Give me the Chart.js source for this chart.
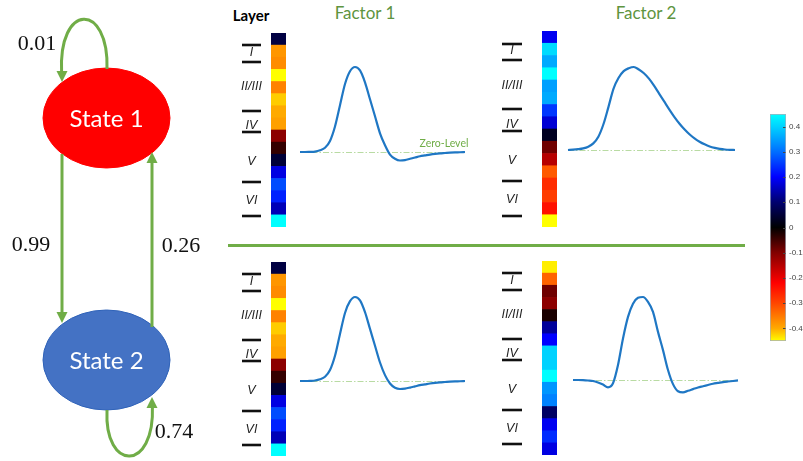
<!DOCTYPE html>
<html>
<head>
<meta charset="utf-8">
<script src="https://cdn.jsdelivr.net/npm/chart.js@4/dist/chart.umd.min.js"></script>
<style>
  html, body { margin: 0; padding: 0; background: #fff; }
  body { width: 803px; height: 461px; overflow: hidden; position: relative; }
  .box { position: absolute; }
  .box canvas { display: block; }
  .lbl { position: absolute; white-space: nowrap; line-height: 1; transform: translate(-50%, -50%); font-family: Lato, sans-serif; }
  .sep { position: absolute; left: 228px; top: 244px; width: 517px; height: 3px; background: #70ad47; }
</style>
</head>
<body>
<div class="sep"></div>
<script>
// ---------- data ----------
const stateNames = ['State 1', 'State 2'];
// transition probabilities: 1→1, 1→2, 2→1, 2→2
const transitionProbs = [0.01, 0.99, 0.26, 0.74];

const layerNames = ['I', 'II/III', 'IV', 'V', 'VI'];
const layerBounds = [0.15, 1.68, 6.2, 8.2, 12.8, 15.95];     // depth (in bins) of layer borders
const layerLabelDepth = [0.8, 4.0, 7.6, 10.9, 14.5];

// spatial loadings, 16 depth bins, top to bottom
const spatialF1S1 = [0.06, -0.38, -0.37, -0.45, -0.36, -0.42, -0.40, -0.39, -0.11, -0.04, 0.05, 0.18, 0.27, 0.23, 0.15, 0.45];
const spatialF2S1 = [0.19, 0.41, 0.36, 0.45, 0.35, 0.36, 0.25, 0.17, 0.03, -0.085, -0.15, -0.32, -0.27, -0.29, -0.24, -0.45];
const spatialF1S2 = [0.06, -0.38, -0.37, -0.45, -0.36, -0.42, -0.40, -0.39, -0.11, -0.04, 0.05, 0.18, 0.27, 0.23, 0.15, 0.45];
const spatialF2S2 = [-0.44, -0.33, -0.085, -0.11, -0.02, 0.13, 0.2, 0.40, 0.40, 0.45, 0.34, 0.32, 0.09, 0.19, 0.24, 0.18];

// temporal waveforms (normalised to peak)
const waveF1S1 = [0, 0, 0.002, 0.005, 0.02, 0.05, 0.13, 0.3, 0.55, 0.8, 0.95, 1.0, 0.96, 0.82, 0.62, 0.42, 0.22, 0.08, -0.03, -0.08, -0.1, -0.095, -0.08, -0.065, -0.05, -0.04, -0.03, -0.022, -0.016, -0.012, -0.008, -0.005, -0.003, 0];
const waveF2S1 = [0, 0.004, 0.01, 0.02, 0.04, 0.08, 0.16, 0.31, 0.52, 0.74, 0.87, 0.95, 0.985, 1.0, 0.97, 0.925, 0.86, 0.775, 0.68, 0.585, 0.49, 0.40, 0.32, 0.25, 0.19, 0.14, 0.10, 0.068, 0.043, 0.026, 0.014, 0.006, 0.002, 0];
const waveF1S2 = [0, 0, 0.002, 0.006, 0.02, 0.05, 0.13, 0.3, 0.56, 0.81, 0.95, 1.0, 0.96, 0.82, 0.62, 0.42, 0.22, 0.07, -0.03, -0.08, -0.095, -0.09, -0.078, -0.064, -0.05, -0.04, -0.03, -0.022, -0.016, -0.012, -0.008, -0.005, -0.003, 0];
const waveF2S2 = [0, 0, -0.002, -0.006, -0.012, -0.03, -0.055, -0.088, -0.04, 0.18, 0.5, 0.76, 0.92, 0.99, 1.0, 0.94, 0.82, 0.58, 0.36, 0.12, -0.05, -0.135, -0.148, -0.13, -0.11, -0.09, -0.075, -0.06, -0.045, -0.035, -0.025, -0.018, -0.012, -0.005];

const colorRange = [-0.45, 0.45];
const colorbarTicks = [0.4, 0.3, 0.2, 0.1, 0, -0.1, -0.2, -0.3, -0.4];

// ---------- style ----------
const cmapStops = [
  [-0.45, [255, 255, 0]], [-0.40, [255, 170, 0]], [-0.30, [255, 70, 0]], [-0.22, [255, 0, 0]],
  [-0.10, [130, 0, 0]], [0, [0, 0, 0]], [0.10, [0, 0, 110]], [0.20, [0, 0, 255]],
  [0.30, [0, 110, 255]], [0.40, [0, 210, 255]], [0.45, [0, 255, 255]]
];
const GREEN = '#70ad47';
const WAVE_BLUE = '#1f77c4';

Chart.defaults.font.family = 'Lato, sans-serif';

function colorFor(v) {
  if (v <= cmapStops[0][0]) return `rgb(${cmapStops[0][1]})`;
  for (let i = 1; i < cmapStops.length; i++) {
    const [v1, c1] = cmapStops[i];
    if (v <= v1) {
      const [v0, c0] = cmapStops[i - 1];
      const t = (v - v0) / (v1 - v0);
      const c = c0.map((a, k) => Math.round(a + (c1[k] - a) * t));
      return `rgb(${c})`;
    }
  }
  return `rgb(${cmapStops[cmapStops.length - 1][1]})`;
}

function makeCanvas(left, top, w, h) {
  const box = document.createElement('div');
  box.className = 'box';
  box.style.left = left + 'px';
  box.style.top = top + 'px';
  const cv = document.createElement('canvas');
  cv.width = w; cv.height = h;
  cv.style.width = w + 'px'; cv.style.height = h + 'px';
  box.appendChild(cv);
  document.body.appendChild(box);
  return cv;
}

function label(text, cx, cy, css) {
  const d = document.createElement('div');
  d.className = 'lbl';
  d.textContent = text;
  d.style.left = cx + 'px';
  d.style.top = cy + 'px';
  Object.assign(d.style, css || {});
  document.body.appendChild(d);
}

const baseOpts = {
  responsive: false, animation: false, devicePixelRatio: 1,
  events: [],
};

// ---------- state diagram ----------
const diagramPlugin = {
  id: 'stateDiagram',
  afterDraw(chart) {
    const ctx = chart.ctx;
    const head = (x, y, ang) => {
      const L = 11, W = 5.5;
      ctx.save();
      ctx.translate(x, y); ctx.rotate(ang);
      ctx.beginPath();
      ctx.moveTo(0, 0); ctx.lineTo(-L, -W); ctx.lineTo(-L, W); ctx.closePath();
      ctx.fillStyle = GREEN; ctx.fill();
      ctx.restore();
    };
    ctx.save();
    ctx.strokeStyle = GREEN; ctx.lineWidth = 3; ctx.lineCap = 'butt';

    // states
    const states = [{ x: 106.5, y: 118, fill: '#ff0000', line: '#ff0000' }, { x: 106.5, y: 360, fill: '#4472c4', line: '#2f62b8' }];
    states.forEach((s, i) => {
      ctx.beginPath();
      ctx.ellipse(s.x, s.y, 63.5, 50, 0, 0, Math.PI * 2);
      ctx.fillStyle = s.fill; ctx.fill();
      ctx.lineWidth = 1; ctx.strokeStyle = s.line; ctx.stroke();
      ctx.fillStyle = '#ffffff';
      ctx.font = '24px Lato, sans-serif';
      ctx.textAlign = 'center'; ctx.textBaseline = 'middle';
      ctx.fillText(stateNames[i], s.x, s.y + 1);
    });

    ctx.strokeStyle = GREEN; ctx.lineWidth = 3;
    // 1 -> 1 loop
    ctx.beginPath();
    ctx.moveTo(107, 69);
    ctx.bezierCurveTo(109, 2, 58, 2, 61.6, 73);
    ctx.stroke();
    head(62, 82, Math.PI / 2);
    // 1 -> 2
    ctx.beginPath(); ctx.moveTo(62, 154); ctx.lineTo(62, 313); ctx.stroke();
    head(62, 323, Math.PI / 2);
    // 2 -> 1
    ctx.beginPath(); ctx.moveTo(152, 327); ctx.lineTo(152, 162); ctx.stroke();
    head(152, 152, -Math.PI / 2);
    // 2 -> 2 loop
    ctx.beginPath();
    ctx.moveTo(107, 410);
    ctx.bezierCurveTo(104, 472, 155, 472, 152.4, 406);
    ctx.stroke();
    head(152, 397, -Math.PI / 2);

    // probabilities
    ctx.fillStyle = '#111';
    ctx.font = '22px "Liberation Serif", serif';
    ctx.textAlign = 'center'; ctx.textBaseline = 'middle';
    const pos = [[37, 44], [31, 245], [181, 246], [174, 432]];
    transitionProbs.forEach((p, i) => ctx.fillText(p.toFixed(2), pos[i][0], pos[i][1]));
    ctx.restore();
  }
};
new Chart(makeCanvas(0, 0, 230, 461), {
  type: 'scatter',
  data: { datasets: [] },
  options: { ...baseOpts, plugins: { legend: { display: false }, tooltip: { enabled: false } },
    scales: { x: { display: false }, y: { display: false } } },
  plugins: [diagramPlugin]
});

// ---------- laminar heat strips ----------
const layerPlugin = {
  id: 'layerMarks',
  afterDraw(chart, args, opts) {
    const ctx = chart.ctx, a = chart.chartArea, depth = chart.scales.depth;
    const x0 = a.left - opts.gutter, x1 = x0 + opts.len;
    ctx.save();
    ctx.strokeStyle = '#111'; ctx.lineWidth = 2.6;
    layerBounds.forEach(b => {
      const y = Math.round(depth.getPixelForValue(b));
      ctx.beginPath(); ctx.moveTo(x0, y); ctx.lineTo(x1, y); ctx.stroke();
    });
    ctx.fillStyle = '#222';
    ctx.font = 'italic 12.5px "Liberation Sans", Arial, sans-serif';
    ctx.textAlign = 'center'; ctx.textBaseline = 'middle';
    layerNames.forEach((n, i) => ctx.fillText(n, (x0 + x1) / 2, depth.getPixelForValue(layerLabelDepth[i])));
    ctx.restore();
  }
};

function heatChart(values, L) {
  const left = L.lineX0 - 6, top = L.cellY0 - 4;
  const w = L.cellX1 - left + 2, h = L.cellY1 - L.cellY0 + 8;
  new Chart(makeCanvas(left, top, w, h), {
    type: 'bar',
    data: {
      labels: values.map((_, i) => i + 1),
      datasets: [{
        data: values.map(() => [0, 1]),
        backgroundColor: values.map(colorFor),
        borderWidth: 0, barPercentage: 1, categoryPercentage: 1
      }]
    },
    options: {
      ...baseOpts,
      indexAxis: 'y',
      layout: { padding: { left: L.cellX0 - left, right: 2, top: 4, bottom: 4 } },
      plugins: { legend: { display: false }, tooltip: { enabled: false },
        layerMarks: { gutter: L.cellX0 - L.lineX0, len: L.lineX1 - L.lineX0 } },
      scales: {
        x: { type: 'linear', min: 0, max: 1, display: false },
        y: { type: 'category', display: false },
        depth: { type: 'linear', axis: 'y', min: 0, max: 16, reverse: true, display: false }
      }
    },
    plugins: [layerPlugin]
  });
}

// ---------- waveforms ----------
const zeroLinePlugin = {
  id: 'zeroLine',
  beforeDatasetsDraw(chart) {
    const ctx = chart.ctx, a = chart.chartArea, y = chart.scales.y.getPixelForValue(0);
    ctx.save();
    ctx.strokeStyle = '#b9dba3'; ctx.lineWidth = 1;
    ctx.setLineDash([6, 2, 1.5, 2]);
    ctx.beginPath(); ctx.moveTo(a.left, Math.round(y) + 0.5); ctx.lineTo(a.right, Math.round(y) + 0.5); ctx.stroke();
    ctx.restore();
  }
};

function waveChart(values, L) {
  const unit = L.yZero - L.yOne;
  const top = Math.round(L.yOne - 0.2 * unit), h = Math.round(1.6 * unit);
  const pad = 3;
  const yMax = (L.yZero - top) / unit, yMin = (L.yZero - (top + h)) / unit;
  new Chart(makeCanvas(L.x0 - pad, top, L.x1 - L.x0 + 2 * pad, h), {
    type: 'line',
    data: {
      labels: values.map((_, i) => i),
      datasets: [{ data: values, borderColor: WAVE_BLUE, borderWidth: 2.2, pointRadius: 0,
        cubicInterpolationMode: 'monotone', fill: false, clip: false }]
    },
    options: {
      ...baseOpts,
      layout: { padding: { left: pad, right: pad, top: 0, bottom: 0 } },
      plugins: { legend: { display: false }, tooltip: { enabled: false } },
      scales: { x: { display: false, offset: false }, y: { display: false, min: yMin, max: yMax } }
    },
    plugins: [zeroLinePlugin]
  });
}

// panels: row = state, column = factor
heatChart(spatialF1S1, { cellX0: 271, cellX1: 286, cellY0: 33, cellY1: 227, lineX0: 242, lineX1: 261 });
heatChart(spatialF2S1, { cellX0: 542, cellX1: 557, cellY0: 31, cellY1: 227, lineX0: 502, lineX1: 522 });
heatChart(spatialF1S2, { cellX0: 271, cellX1: 286, cellY0: 262, cellY1: 456, lineX0: 242, lineX1: 261 });
heatChart(spatialF2S2, { cellX0: 542, cellX1: 557, cellY0: 261, cellY1: 455, lineX0: 502, lineX1: 522 });

waveChart(waveF1S1, { x0: 300, x1: 465, yZero: 152, yOne: 67 });
waveChart(waveF2S1, { x0: 568, x1: 735, yZero: 150, yOne: 67 });
waveChart(waveF1S2, { x0: 300, x1: 465, yZero: 381, yOne: 297 });
waveChart(waveF2S2, { x0: 573, x1: 738, yZero: 380, yOne: 297 });

// ---------- colour bar ----------
const colorbarTicksPlugin = {
  id: 'cbTicks',
  afterDatasetsDraw(chart) {
    const ctx = chart.ctx, a = chart.chartArea, ys = chart.scales.y;
    ctx.save();
    ctx.strokeStyle = '#444'; ctx.lineWidth = 1;
    colorbarTicks.forEach(v => {
      const y = Math.round(ys.getPixelForValue(v)) + 0.5;
      ctx.beginPath(); ctx.moveTo(a.right - 3, y); ctx.lineTo(a.right - 0.5, y); ctx.stroke();
    });
    ctx.restore();
  }
};
new Chart(makeCanvas(764, 104, 60, 250), {
  type: 'bar',
  data: {
    labels: [''],
    datasets: [{
      data: [colorRange],
      backgroundColor(c) {
        const chart = c.chart;
        if (!chart.chartArea) return '#000';
        const ys = chart.scales.y;
        const g = chart.ctx.createLinearGradient(0, ys.getPixelForValue(colorRange[0]), 0, ys.getPixelForValue(colorRange[1]));
        cmapStops.forEach(([v, rgb]) => g.addColorStop((v - colorRange[0]) / (colorRange[1] - colorRange[0]), `rgb(${rgb})`));
        return g;
      },
      borderColor: '#a6afbd', borderWidth: 1, borderSkipped: false,
      barPercentage: 1, categoryPercentage: 1
    }]
  },
  options: {
    ...baseOpts,
    layout: { padding: { left: 6, top: 10, bottom: 13, right: 0 } },
    plugins: { legend: { display: false }, tooltip: { enabled: false } },
    scales: {
      x: { display: false },
      y: {
        position: 'right', min: colorRange[0], max: colorRange[1],
        grid: { display: false, drawTicks: false }, border: { display: false },
        afterFit(s) { s.width = 38; },
        afterBuildTicks(s) { s.ticks = colorbarTicks.map(v => ({ value: v })); },
        ticks: { padding: 3, color: '#444', font: { size: 8, family: '"Liberation Sans", Arial, sans-serif' }, callback: v => String(v) }
      }
    }
  },
  plugins: [colorbarTicksPlugin]
});

// ---------- titles ----------
label('Layer', 251, 15, { fontWeight: '700', fontSize: '15px', color: '#000' });
label('Factor 1', 365, 12, { fontSize: '17px', color: '#5e9440' });
label('Factor 2', 646, 12, { fontSize: '17px', color: '#5e9440' });
label('Zero-Level', 444, 143, { fontSize: '10.5px', color: GREEN });
</script>
</body>
</html>
